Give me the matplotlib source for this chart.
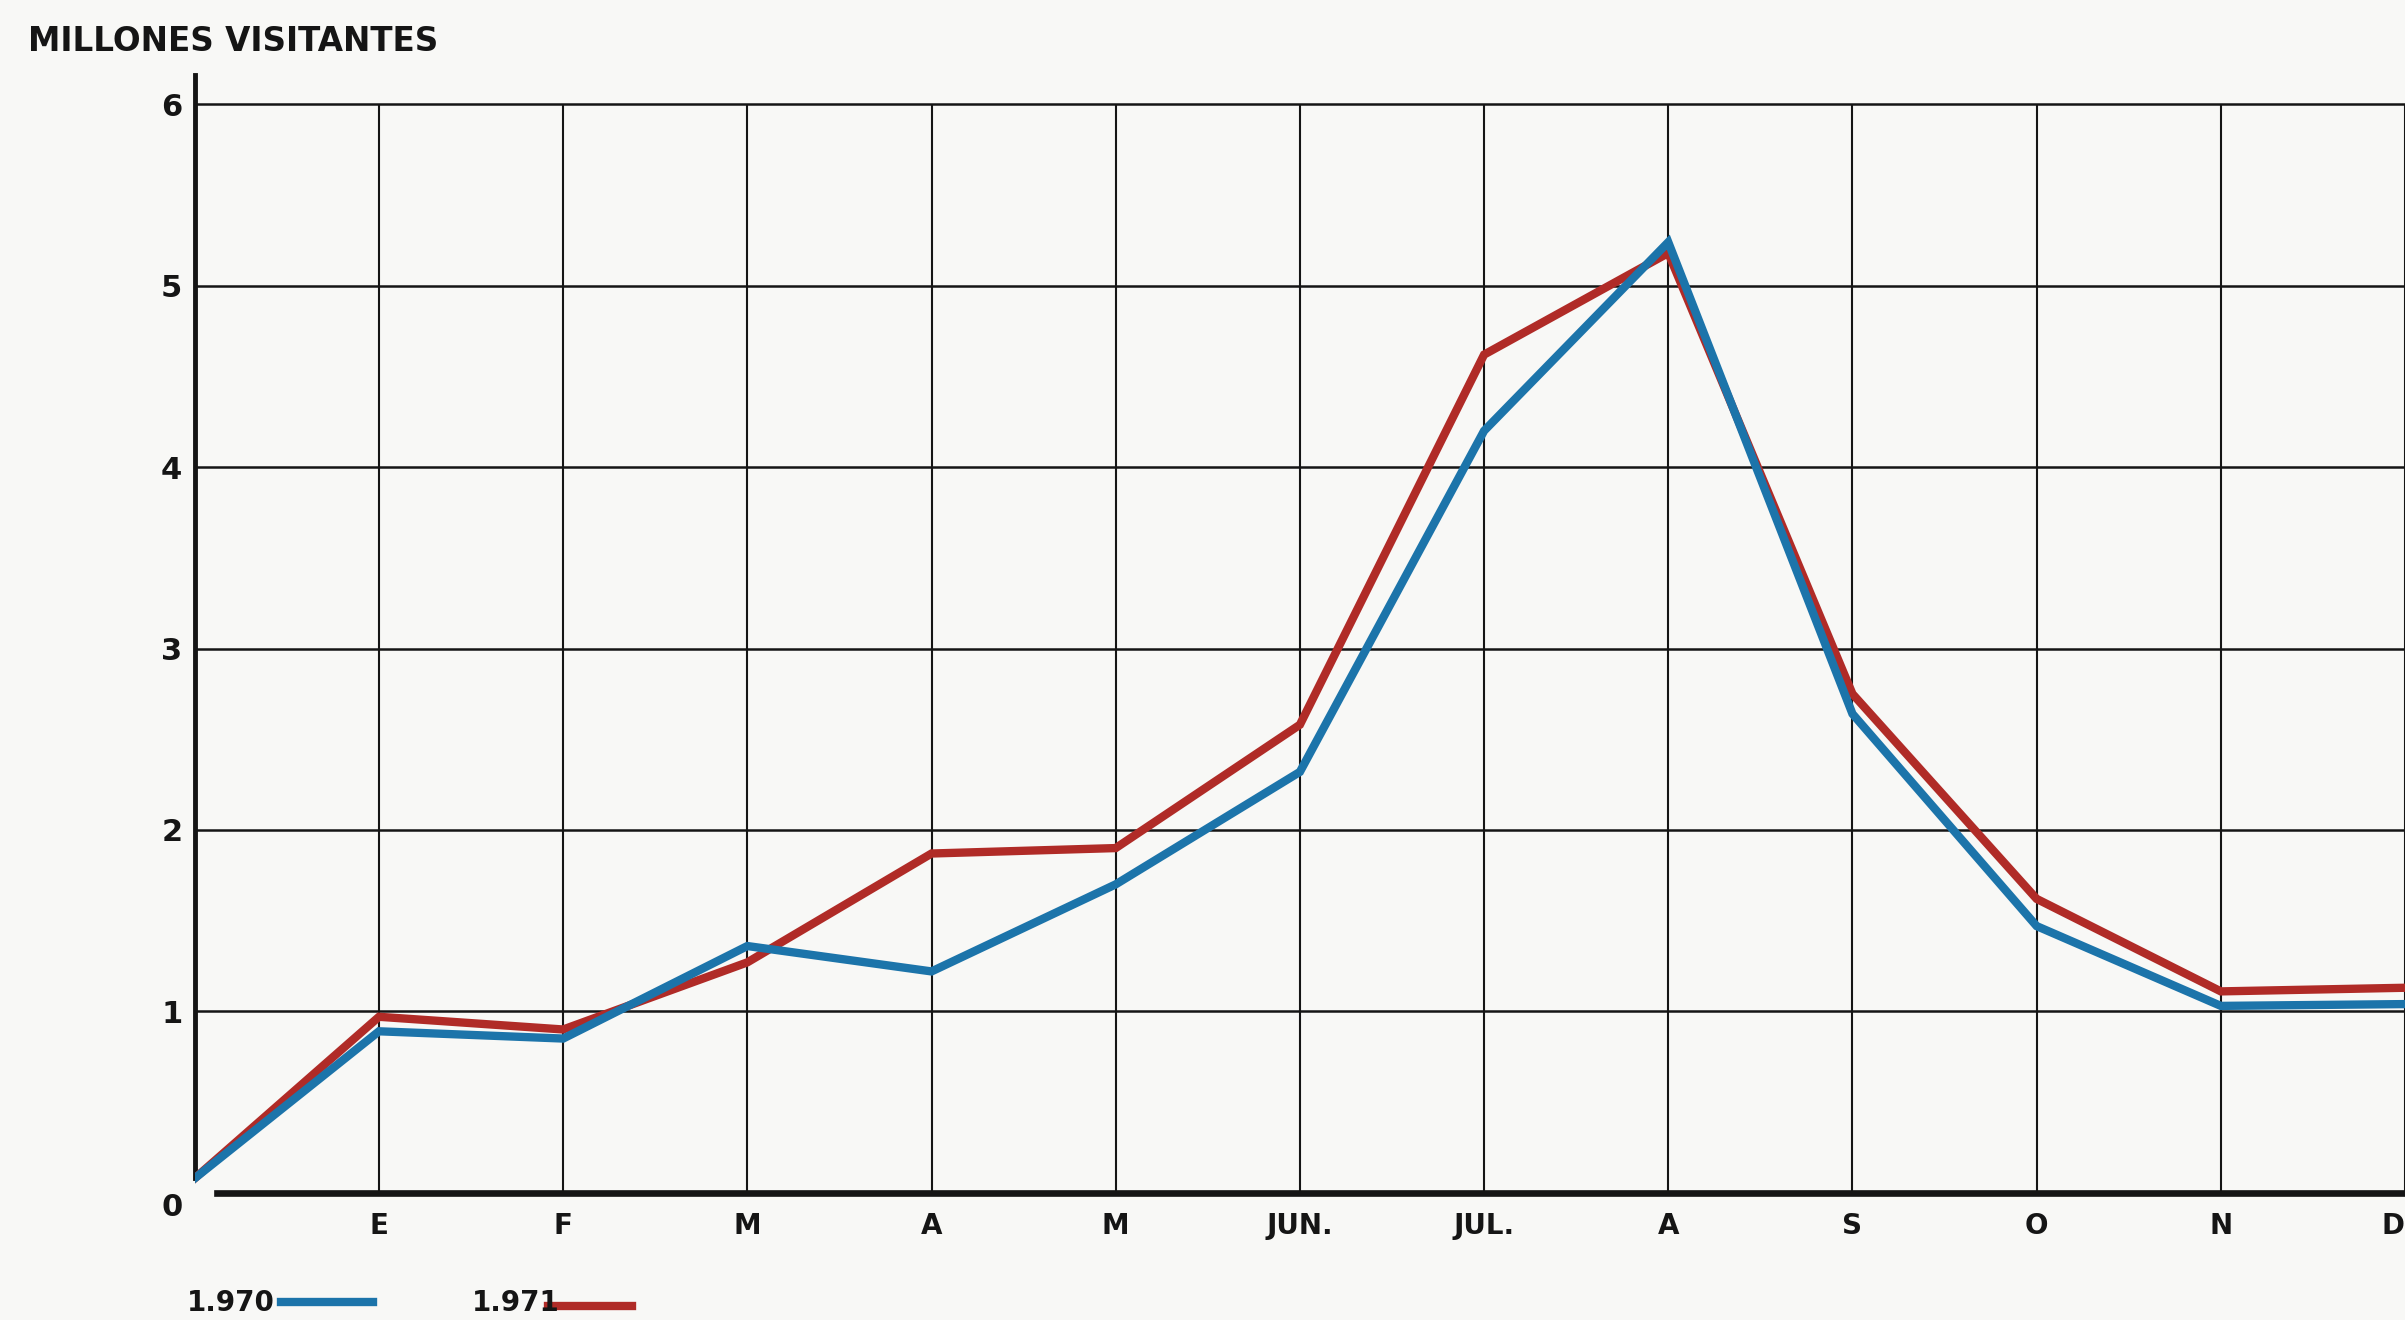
import matplotlib
matplotlib.use("Agg")
import matplotlib.pyplot as plt
from matplotlib.lines import Line2D

# ---- data ----
months = ["", "E", "F", "M", "A", "M", "JUN.", "JUL.", "A", "S", "O", "N", "D"]
visitors_1970 = [0.08, 0.89, 0.85, 1.36, 1.22, 1.70, 2.32, 4.20, 5.24, 2.64, 1.47, 1.03, 1.04]
visitors_1971 = [0.08, 0.97, 0.90, 1.27, 1.87, 1.90, 2.58, 4.62, 5.18, 2.75, 1.62, 1.11, 1.13]
y_ticks = [0, 1, 2, 3, 4, 5, 6]
title_text = "MILLONES VISITANTES"
legend_labels = ["1.970", "1.971"]

plt.rcParams["font.family"] = ["DejaVu Sans"]

BLUE = "#1c74aa"
RED = "#b02b27"
BG = "#f8f8f6"
INK = "#151515"

fig = plt.figure(figsize=(24.05, 13.2), dpi=100, facecolor=BG)
ax = fig.add_axes([0.081, 0.0964, 0.919, (0.921 - 0.0964) * 6.16 / 6])
ax.set_facecolor(BG)

x = list(range(len(months)))
ax.plot(x, visitors_1971, color=RED, lw=6, solid_joinstyle="miter", zorder=3)
ax.plot(x, visitors_1970, color=BLUE, lw=6, solid_joinstyle="miter", zorder=4)

ax.set_xlim(0, 12)
ax.set_ylim(0, 6.16)

# grid (vertical lines stop at the top gridline)
ax.hlines(y_ticks[1:], 0, 12, color=INK, lw=1.8, zorder=1)
ax.vlines(x[1:], 0, y_ticks[-1], color=INK, lw=1.5, zorder=1)

for s in ["top", "right"]:
    ax.spines[s].set_visible(False)
ax.spines["left"].set_linewidth(3.5)
ax.spines["left"].set_color(INK)
ax.spines["left"].set_bounds(0.08, 6.16)
ax.spines["bottom"].set_linewidth(4.8)
ax.spines["bottom"].set_color(INK)
ax.spines["bottom"].set_bounds(0.12, 12)

ax.set_yticks(y_ticks)
ax.set_yticklabels([str(v) for v in y_ticks], fontsize=22, fontweight="bold", color=INK)
ax.get_yticklabels()[0].set_va("top")
ax.set_xticks(x[1:])
ax.set_xticklabels(months[1:], fontsize=20, fontweight="bold", color=INK)
ax.tick_params(axis="both", length=0)
ax.tick_params(axis="y", pad=9)
ax.tick_params(axis="x", pad=14)
ax.get_xticklabels()[-1].set_ha("right")

fig.text(0.0115, 0.9686, title_text, fontsize=23.5, fontweight="bold", color=INK,
         ha="left", va="center")

# legend drawn manually
fig.text(0.0778, 0.0128, legend_labels[0], fontsize=20, fontweight="bold", color=INK,
         ha="left", va="center")
fig.add_artist(Line2D([0.1167, 0.155], [0.0140, 0.0140], transform=fig.transFigure,
                      color=BLUE, lw=6))
fig.text(0.1964, 0.0128, legend_labels[1], fontsize=20, fontweight="bold", color=INK,
         ha="left", va="center")
fig.add_artist(Line2D([0.2277, 0.2628], [0.0105, 0.0105], transform=fig.transFigure,
                      color=RED, lw=6))

fig.savefig("out.png", dpi=100, facecolor=BG)
